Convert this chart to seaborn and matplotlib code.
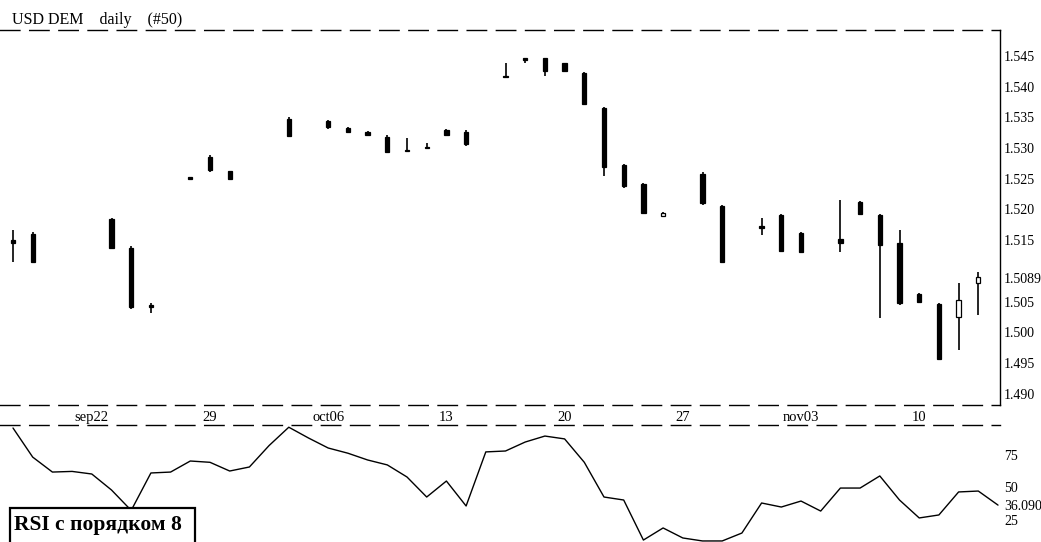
import numpy as np
import pandas as pd
import matplotlib
matplotlib.use("Agg")
import matplotlib.pyplot as plt
from matplotlib.patches import Rectangle
import seaborn as sns

# ---------------- data ----------------
title = "USD DEM    daily    (#50)"
candle_slot = [0, 1, 5, 6, 7, 9, 10, 11, 14, 16, 17, 18, 19, 20, 21, 22, 23,
               25, 26, 27, 28, 29, 30, 31, 32, 33, 35, 36, 38, 39, 40, 42, 43,
               44, 45, 46, 47, 48, 49]
candle_open = [1.5150, 1.5160, 1.5184, 1.5138, 1.5045, 1.5251, 1.5285, 1.5262,
               1.5348, 1.5344, 1.5333, 1.5327, 1.5318, 1.5297, 1.5302, 1.5330,
               1.5326, 1.5417, 1.5446, 1.5446, 1.5438, 1.5423, 1.5366, 1.5272,
               1.5241, 1.5190, 1.5258, 1.5205, 1.5171, 1.5191, 1.5161, 1.5152,
               1.5212, 1.5191, 1.5145, 1.5062, 1.5046, 1.5025, 1.5080]
candle_high = [1.5167, 1.5163, 1.5186, 1.5141, 1.5048, 1.5252, 1.5289, 1.5263,
               1.5351, 1.5346, 1.5334, 1.5328, 1.5321, 1.5317, 1.5308, 1.5331,
               1.5330, 1.5439, 1.5447, 1.5447, 1.5439, 1.5424, 1.5367, 1.5274,
               1.5243, 1.5196, 1.5261, 1.5207, 1.5186, 1.5193, 1.5163, 1.5215,
               1.5214, 1.5193, 1.5167, 1.5064, 1.5048, 1.5080, 1.5098]
candle_low = [1.5114, 1.5113, 1.5136, 1.5038, 1.5032, 1.5249, 1.5261, 1.5248,
              1.5318, 1.5331, 1.5326, 1.5321, 1.5292, 1.5294, 1.5299, 1.5321,
              1.5303, 1.5414, 1.5439, 1.5417, 1.5424, 1.5370, 1.5255, 1.5235,
              1.5193, 1.5189, 1.5207, 1.5113, 1.5158, 1.5131, 1.5129, 1.5130,
              1.5191, 1.5023, 1.5045, 1.5048, 1.4955, 1.4971, 1.5028]
candle_close = [1.5146, 1.5115, 1.5138, 1.5042, 1.5041, 1.5250, 1.5265, 1.5249,
                1.5320, 1.5335, 1.5327, 1.5322, 1.5293, 1.5295, 1.5300, 1.5322,
                1.5306, 1.5415, 1.5444, 1.5426, 1.5425, 1.5372, 1.5269, 1.5238,
                1.5194, 1.5195, 1.5210, 1.5115, 1.5170, 1.5133, 1.5131, 1.5145,
                1.5193, 1.5142, 1.5048, 1.5050, 1.4957, 1.5053, 1.5090]

rsi_slot = list(range(51))
rsi_value = [95.4, 73.0, 61.5, 62.0, 60.0, 47.7, 32.0, 60.8, 61.5, 70.0,
             69.0, 62.3, 65.4, 81.9, 96.0, 87.7, 80.0, 76.0, 70.8, 67.0,
             57.7, 42.3, 54.6, 35.4, 77.0, 77.7, 84.6, 89.2, 87.0, 69.0,
             42.3, 40.0, 9.2, 18.5, 10.8, 8.5, 8.5, 14.6, 37.7, 34.6,
             39.2, 31.5, 49.2, 49.2, 58.5, 40.0, 26.2, 28.5, 46.2, 46.9,
             36.09]

price_ticks = [1.545, 1.540, 1.535, 1.530, 1.525, 1.520, 1.515, 1.5089,
               1.505, 1.500, 1.495, 1.490]
price_labels = ["1.545", "1.540", "1.535", "1.530", "1.525", "1.520", "1.515",
                "1.5089", "1.505", "1.500", "1.495", "1.490"]
date_ticks = [4, 10, 16, 22, 28, 34, 40, 46]
date_labels = ["sep22", "29", "oct06", "13", "20", "27", "nov03", "10"]
rsi_ticks = [75, 50, 36.09, 25]
rsi_labels = ["75", "50", "36.090", "25"]
rsi_caption = "RSI с порядком 8"

# ---------------- style ----------------
sns.set_theme(style="white")
plt.rcParams["font.family"] = ["Liberation Serif", "DejaVu Serif"]

W, H = 1041, 542
fig = plt.figure(figsize=(W / 100, H / 100), dpi=100)
fig.patch.set_facecolor("white")

def px_axes(x0, y0, x1, y1):
    return fig.add_axes([x0 / W, 1 - y1 / H, (x1 - x0) / W, (y1 - y0) / H])

xlim = (-13 / 19.7, (1000 - 13) / 19.7)

# ---------------- price panel ----------------
ax = px_axes(0, 30, 1000, 405)
df = pd.DataFrame({"slot": candle_slot, "open": candle_open, "high": candle_high,
                   "low": candle_low, "close": candle_close})
ax.vlines(df["slot"], df["low"], df["high"], color="black", linewidth=1.2)
body_bottom = np.minimum(df["open"], df["close"])
body_height = np.maximum(np.abs(df["close"] - df["open"]), 0.00025)
face = ["white" if c > o else "black" for o, c in zip(df["open"], df["close"])]
ax.bar(df["slot"], body_height, bottom=body_bottom, width=0.22,
       color=face, edgecolor="black", linewidth=0.9, zorder=3)

ax.set_xlim(*xlim)
ax.set_ylim(1.545 - 349 / 6140, 1.545 + 26 / 6140)
ax.yaxis.tick_right()
ax.set_yticks(price_ticks)
ax.set_yticklabels(price_labels)
ax.set_xticks(date_ticks)
ax.set_xticklabels(date_labels)
ax.tick_params(axis="y", length=0, pad=3, labelsize=10, colors="black")
ax.tick_params(axis="x", length=0, pad=4, labelsize=10.5, colors="black")
ax.set_xlabel("")
ax.set_ylabel("")
ax.spines["left"].set_visible(False)
for s in ["top", "bottom"]:
    ax.spines[s].set_linestyle((0, (14, 7)))
    ax.spines[s].set_linewidth(1.0)
    ax.spines[s].set_color("black")
ax.spines["right"].set_color("black")
ax.spines["right"].set_linewidth(1.0)
ax.set_facecolor("white")

# ---------------- RSI panel ----------------
ax2 = px_axes(0, 425, 1000, 542)
rsi_df = pd.DataFrame({"slot": rsi_slot, "rsi": rsi_value})
sns.lineplot(data=rsi_df, x="slot", y="rsi", ax=ax2, color="black",
             linewidth=1.0)
ax2.set_xlim(*xlim)
ax2.set_ylim(7.7, 97.7)
ax2.yaxis.tick_right()
ax2.set_yticks(rsi_ticks)
ax2.set_yticklabels(rsi_labels)
ax2.set_xticks([])
ax2.set_xlabel("")
ax2.set_ylabel("")
ax2.tick_params(axis="y", length=0, pad=3, labelsize=10, colors="black")
for s in ["left", "bottom", "right"]:
    ax2.spines[s].set_visible(False)
ax2.spines["top"].set_linestyle((0, (14, 7)))
ax2.spines["top"].set_linewidth(1.0)
ax2.spines["top"].set_color("black")
ax2.set_facecolor("white")

# ---------------- texts ----------------
fig.text(12 / W, 1 - 20 / H, title, fontsize=11.5, va="center", ha="left",
         color="black")

fig.patches.append(Rectangle((10 / W, 1 - 548 / H), 185 / W, 40 / H,
                             transform=fig.transFigure, fill=True,
                             facecolor="white", edgecolor="black",
                             linewidth=1.6, zorder=5))
fig.text(14 / W, 1 - 525 / H, rsi_caption, fontsize=15.5, fontweight="bold",
         va="center", ha="left", color="black", zorder=6)

fig.savefig("out.png", dpi=100, facecolor="white")
